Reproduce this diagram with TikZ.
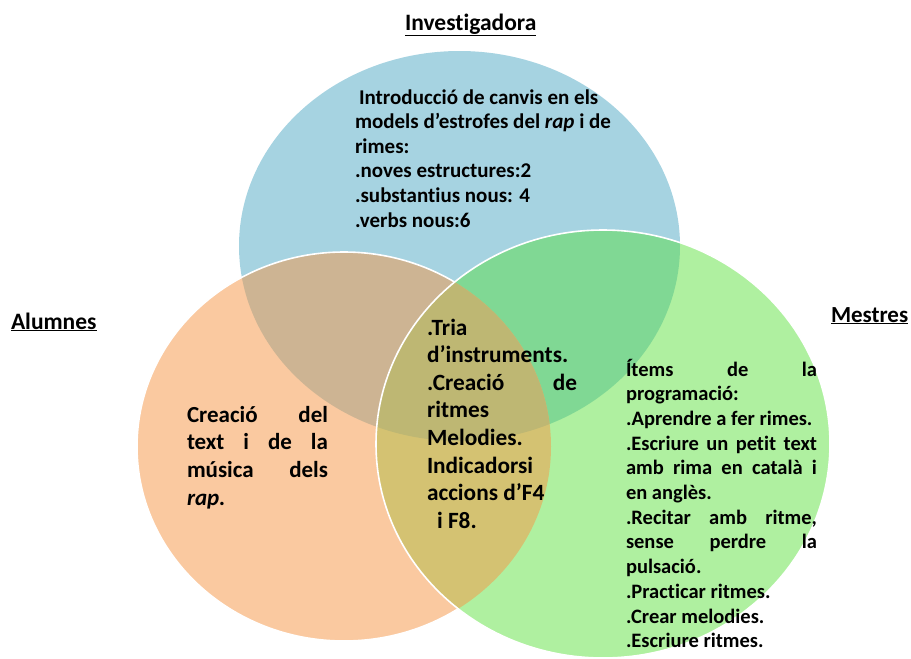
\documentclass[tikz,border=0pt]{standalone}
\usepackage{fontspec}
\setmainfont{Carlito}[Ligatures=NoCommon]
\definecolor{cB}{HTML}{A6D3E1}
\definecolor{cO}{HTML}{FAC9A0}
\definecolor{cG}{HTML}{AFF0A0}
\definecolor{cBO}{HTML}{CDB493}
\definecolor{cBG}{HTML}{80D894}
\definecolor{cOG}{HTML}{D4C272}
\definecolor{cBOG}{HTML}{BEB773}
\begin{document}
\begin{tikzpicture}[x=1pt,y=-1pt,
  txt/.style={anchor=base west, inner sep=0pt, outer sep=0pt},
  edge/.style={draw=white, line width=1.6pt}]
\useasboundingbox (0,0) rectangle (911,659);
\def\blueE{(459.5,246) ellipse [x radius=220.5pt, y radius=195pt]}
\def\orangeE{(344,446.5) ellipse [x radius=207pt, y radius=194.5pt]}
\def\greenE{(603,444) ellipse [x radius=227pt, y radius=214pt]}
% blue
\fill[cB] \blueE;
% orange
\fill[cO] \orangeE;
\begin{scope}\clip \blueE; \fill[cBO] \orangeE; \end{scope}
\path[edge] \orangeE;
% green
\fill[cG] \greenE;
\begin{scope}\clip \blueE; \fill[cBG] \greenE; \end{scope}
\begin{scope}\clip \orangeE; \fill[cOG] \greenE; \end{scope}
\begin{scope}\clip \blueE; \clip \orangeE; \fill[cBOG] \greenE; \end{scope}
\path[edge] \greenE;
% labels
\node[txt] (inv) at (405,30) {\fontsize{23.5}{28}\selectfont\bfseries\underline{Investigadora}};
\node[txt] (alu) at (11,329) {\fontsize{23.5}{28}\selectfont\bfseries\underline{Alumnes}};
\node[txt] (mes) at (831,322) {\fontsize{23}{28}\selectfont\bfseries\underline{Mestres}};
% blue text
\node[txt] (tB) at (355,104) {\parbox[t]{300pt}{\fontsize{21}{24.6}\selectfont\bfseries
 \hspace*{4pt}Introducció de canvis en els\\
 models d’estrofes del \textit{rap} i de\\
 rimes:\\
 .noves estructures:2\\
 .substantius nous: 4\\
 .verbs nous:6}};
% orange text
\node[txt] (tO) at (187,422) {\parbox[t]{141pt}{\fontsize{23}{27.7}\selectfont\bfseries
 \makebox[141pt][s]{Creació del}\\
 \makebox[141pt][s]{text i de la}\\
 \makebox[141pt][s]{música dels}\\
 \textit{rap.}}};
% centre text
\node[txt] (tC) at (427,335) {\parbox[t]{150pt}{\fontsize{23.3}{27.6}\selectfont\bfseries
 .Tria\\
 d’instruments.\\
 \makebox[150pt][s]{.Creació de}\\
 ritmes\\
 Melodies.\\
 Indicadorsi\\
 accions d’F4\\
 \hspace*{10pt}i F8.}};
% green text
\node[txt] (tG) at (626,376) {\parbox[t]{191pt}{\fontsize{20.5}{24.7}\selectfont\bfseries
 \makebox[191pt][s]{Ítems de la}\\
 programació:\\
 .Aprendre a fer rimes.\\
 \makebox[191pt][s]{.Escriure un petit text}\\
 \makebox[191pt][s]{amb rima en català i}\\
 en anglès.\\
 \makebox[191pt][s]{.Recitar amb ritme,}\\
 \makebox[191pt][s]{sense perdre la}\\
 pulsació.\\
 .Practicar ritmes.\\
 .Crear melodies.\\
 .Escriure ritmes.}};
\end{tikzpicture}
\end{document}
